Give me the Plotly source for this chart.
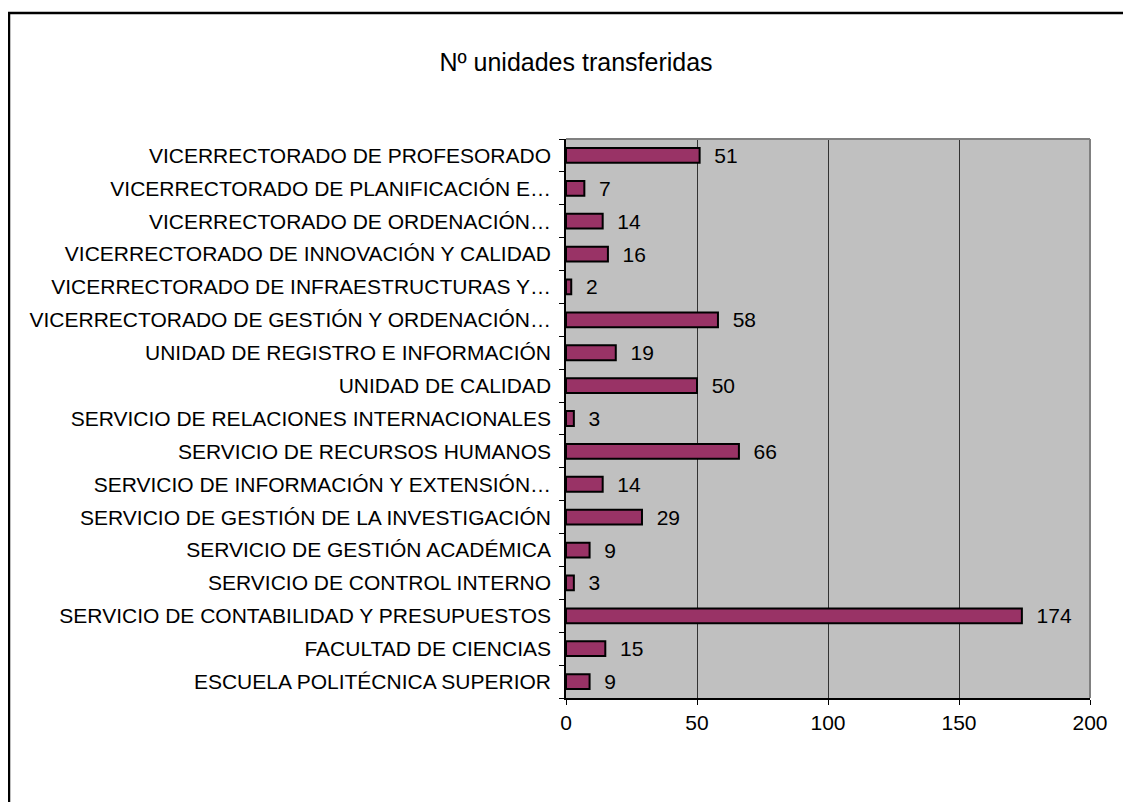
import plotly.graph_objects as go

unidades = [
    "ESCUELA POLITÉCNICA SUPERIOR",
    "FACULTAD DE CIENCIAS",
    "SERVICIO DE CONTABILIDAD Y PRESUPUESTOS",
    "SERVICIO DE CONTROL INTERNO",
    "SERVICIO DE GESTIÓN ACADÉMICA",
    "SERVICIO DE GESTIÓN DE LA INVESTIGACIÓN",
    "SERVICIO DE INFORMACIÓN Y EXTENSIÓN…",
    "SERVICIO DE RECURSOS HUMANOS",
    "SERVICIO DE RELACIONES INTERNACIONALES",
    "UNIDAD DE CALIDAD",
    "UNIDAD DE REGISTRO E INFORMACIÓN",
    "VICERRECTORADO DE GESTIÓN Y ORDENACIÓN…",
    "VICERRECTORADO DE INFRAESTRUCTURAS Y…",
    "VICERRECTORADO DE INNOVACIÓN Y CALIDAD",
    "VICERRECTORADO DE ORDENACIÓN…",
    "VICERRECTORADO DE PLANIFICACIÓN E…",
    "VICERRECTORADO DE PROFESORADO",
]
transferidas = [9, 15, 174, 3, 9, 29, 14, 66, 3, 50, 19, 58, 2, 16, 14, 7, 51]

x_ticks = [0, 50, 100, 150, 200]

# la pagina tiene 8px de margen en el body, se descuenta aqui
W, H = 1131, 802
OFF = 8
L, T = 566 - OFF, 139 - OFF
R, B = W - 1090 + OFF, H - 698 + OFF
pw, ph = W - L - R, H - T - B


def px_x(p):
    return (p - OFF - L) / pw


def px_y(p):
    return 1 - (p - OFF - T) / ph


fig = go.Figure(go.Bar(
    x=transferidas,
    y=unidades,
    orientation="h",
    marker=dict(color="#993366", line=dict(color="#000000", width=2)),
    text=transferidas,
    texttemplate="  %{x}",
    textposition="outside",
    constraintext="none",
    textfont=dict(size=21, color="#000000"),
    cliponaxis=False,
))

shapes = [
    # marco exterior
    dict(type="rect", xref="paper", yref="paper",
         x0=px_x(9), x1=px_x(W + 20), y0=px_y(H + 20), y1=px_y(13),
         line=dict(color="#000000", width=2.5)),
    # bordes grises del area de trazado
    dict(type="line", xref="paper", yref="paper", x0=0, x1=1, y0=1, y1=1,
         line=dict(color="#808080", width=2)),
    dict(type="line", xref="paper", yref="paper", x0=1, x1=1, y0=0, y1=1,
         line=dict(color="#808080", width=2)),
]

fig.update_layout(
    width=W, height=H,
    margin=dict(l=L, r=R, t=T, b=B, autoexpand=False),
    paper_bgcolor="#ffffff",
    plot_bgcolor="#c0c0c0",
    font=dict(family="Liberation Sans, Arial, sans-serif", size=21, color="#000000"),
    title=dict(text="Nº unidades transferidas", x=(576 - OFF) / W, xanchor="center",
               y=1 - (62 - OFF) / H, yanchor="middle", yref="container",
               font=dict(size=25)),
    bargap=0.55,
    showlegend=False,
    shapes=shapes,
    xaxis=dict(range=[0, 200], tickvals=x_ticks, showgrid=True,
               gridcolor="#333333", gridwidth=1, zeroline=False,
               showline=True, linecolor="#000000", linewidth=1.5,
               ticks="outside", ticklen=5, tickcolor="#000000",
               tickfont=dict(size=21)),
    yaxis=dict(type="category", showgrid=False, zeroline=False,
               showline=True, linecolor="#000000", linewidth=1.5,
               ticks="outside", ticklen=5, tickcolor="#000000",
               tickson="boundaries", ticklabelstandoff=9,
               tickfont=dict(size=21)),
)

fig.write_html("out.html")
